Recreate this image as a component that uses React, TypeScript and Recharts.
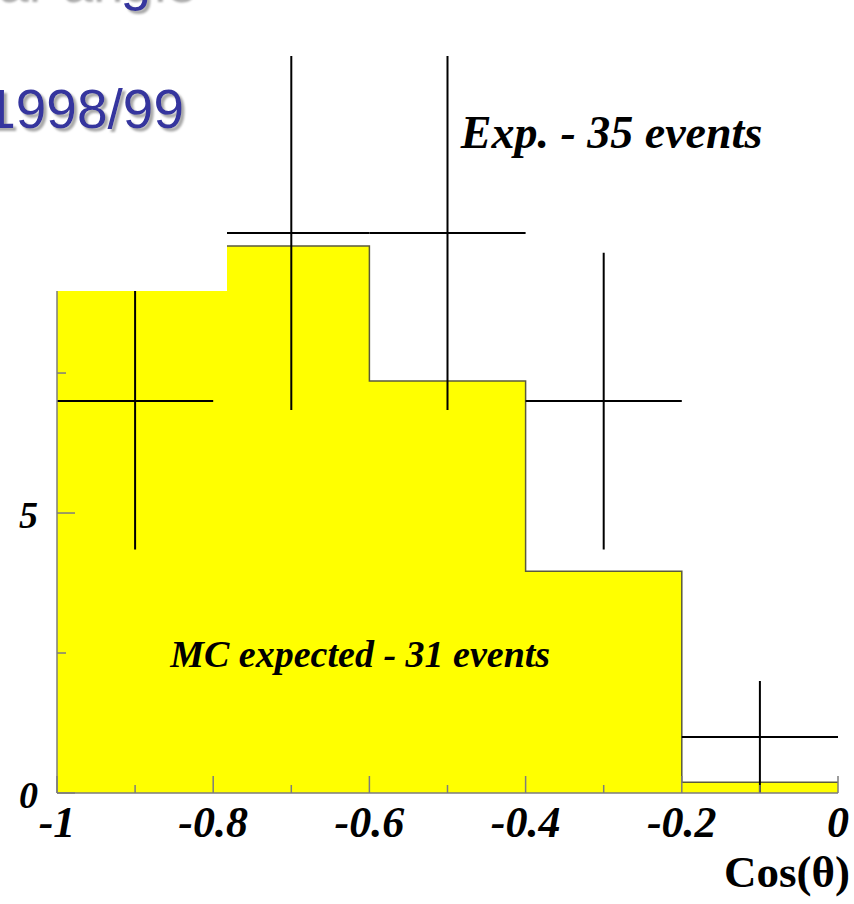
import React from "react";
import {
  ComposedChart,
  Area,
  Scatter,
  ErrorBar,
  XAxis,
  YAxis,
  ReferenceDot,
} from "recharts";

// MC expectation, one value per cos(theta) bin (last value repeated for the closing step)
const binEdges = [-1, -0.8, -0.6, -0.4, -0.2, 0];
const mcCounts = [9.72, 9.77, 7.36, 3.96, 0.19];

// measured events at bin centres, with sqrt(N) errors
const binCentres = [-0.9, -0.7, -0.5, -0.3, -0.1];
const expCounts = [7, 10, 10, 7, 1];
const expErrors = [2.65, 3.16, 3.16, 2.65, 1];
const binHalfWidth = 0.1;

const xMajor = [-1, -0.8, -0.6, -0.4, -0.2, 0];
const xMinor = [-0.9, -0.7, -0.5, -0.3, -0.1];
const xLabels = ["-1", "-0.8", "-0.6", "-0.4", "-0.2", "0"];
const yMajor = [0, 5, 10];
const yMinor = [2.5, 7.5, 12.5];
const yLabels = ["0", "5", "10"];

const xTicks = [...xMajor, ...xMinor].sort((a, b) => a - b);
const yTicks = [...yMajor, ...yMinor].sort((a, b) => a - b);

const mcData = binEdges.map((x, i) => ({
  x,
  y: mcCounts[Math.min(i, mcCounts.length - 1)],
}));
const expData = binCentres.map((x, i) => ({
  x,
  y: expCounts[i],
  ex: binHalfWidth,
  ey: expErrors[i],
}));

const FRAME = "#7d7d7d";
const serif = '"Liberation Serif", "Times New Roman", serif';

const findIdx = (arr: number[], v: number) =>
  arr.findIndex((m) => Math.abs(m - v) < 1e-6);

const BottomTick = (props: any) => {
  const { x, y, payload } = props;
  const i = findIdx(xMajor, payload.value);
  return (
    <g>
      <line x1={x} y1={y} x2={x} y2={y - (i >= 0 ? 17 : 8)} stroke={FRAME} strokeWidth={1.5} />
      {i >= 0 && (
        <text x={x} y={y + 44} textAnchor="middle" fontSize={44} fontFamily={serif}
          fontWeight={700} fontStyle="italic" fill="#000">
          {xLabels[i]}
        </text>
      )}
    </g>
  );
};

const TopTick = (props: any) => {
  const { x, y, payload } = props;
  const i = findIdx(xMajor, payload.value);
  return <line x1={x} y1={y} x2={x} y2={y + (i >= 0 ? 17 : 9)} stroke={FRAME} strokeWidth={1.5} />;
};

const LeftTick = (props: any) => {
  const { x, y, payload } = props;
  const i = findIdx(yMajor, payload.value);
  return (
    <g>
      <line x1={x} y1={y} x2={x + (i >= 0 ? 18 : 9)} y2={y} stroke={FRAME} strokeWidth={1.5} />
      {i >= 0 && (
        <text x={x - 19} y={y + 15} textAnchor="end" fontSize={38} fontFamily={serif}
          fontWeight={700} fontStyle="italic" fill="#000">
          {yLabels[i]}
        </text>
      )}
    </g>
  );
};

const RightTick = (props: any) => {
  const { x, y, payload } = props;
  const i = findIdx(yMajor, payload.value);
  return <line x1={x} y1={y} x2={x - (i >= 0 ? 17 : 9)} y2={y} stroke={FRAME} strokeWidth={1.5} />;
};

const note = (text: string, size: number) => (p: any) => (
  <text x={p.viewBox.x} y={p.viewBox.y} fontSize={size} fontFamily={serif}
    fontWeight={700} fontStyle="italic" fill="#000">
    {text}
  </text>
);

const App: React.FC = () => {
  return (
    <div style={{ position: "absolute", left: 0, top: 0, width: 854, height: 904 }}>
      <ComposedChart width={854} height={904} margin={{ top: 13, right: 16, bottom: 0, left: 0 }}>
        <XAxis
          dataKey="x"
          type="number"
          domain={[-1, 0]}
          ticks={xTicks}
          interval={0}
          height={111}
          tickSize={0}
          tickMargin={0}
          tickLine={false}
          axisLine={{ stroke: FRAME, strokeWidth: 1.5 }}
          tick={BottomTick}
          label={(p: any) => (
            <text x={p.viewBox.x + p.viewBox.width + 12} y={p.viewBox.y + 94} textAnchor="end"
              fontSize={45} fontFamily={serif} fontWeight={700} fill="#000">
              Cos(θ)
            </text>
          )}
        />
        <XAxis
          xAxisId="top"
          orientation="top"
          type="number"
          domain={[-1, 0]}
          ticks={xTicks}
          interval={0}
          height={0}
          tickSize={0}
          tickMargin={0}
          tickLine={false}
          axisLine={{ stroke: FRAME, strokeWidth: 1.5 }}
          tick={TopTick}
        />
        <YAxis
          dataKey="y"
          type="number"
          domain={[0, 13.93]}
          ticks={yTicks}
          interval={0}
          width={57}
          tickSize={0}
          tickMargin={0}
          tickLine={false}
          axisLine={{ stroke: FRAME, strokeWidth: 1.5 }}
          tick={LeftTick}
        />
        <YAxis
          yAxisId="right"
          orientation="right"
          type="number"
          domain={[0, 13.93]}
          ticks={yTicks}
          interval={0}
          width={0}
          tickSize={0}
          tickMargin={0}
          tickLine={false}
          axisLine={{ stroke: FRAME, strokeWidth: 1.5 }}
          tick={RightTick}
        />
        <Area
          data={mcData}
          dataKey="y"
          type="stepAfter"
          fill="#ffff00"
          fillOpacity={1}
          stroke="#5a5a3c"
          strokeWidth={1.5}
          isAnimationActive={false}
        />
        <Scatter data={expData} dataKey="y" shape={() => <g />} isAnimationActive={false}>
          <ErrorBar dataKey="ex" direction="x" width={0} stroke="#000" strokeWidth={2} />
          <ErrorBar dataKey="ey" direction="y" width={0} stroke="#000" strokeWidth={2} />
        </Scatter>
        <ReferenceDot x={-0.483} y={11.52} r={0} fill="none" stroke="none" label={note("Exp. - 35 events", 46)} />
        <ReferenceDot x={-0.855} y={2.25} r={0} fill="none" stroke="none" label={note("MC expected - 31 events", 38)} />
      </ComposedChart>

      {/* title box laid over the upper-left corner */}
      <svg
        width={227}
        height={291}
        style={{ position: "absolute", left: 0, top: 0, background: "#fff" }}
      >
        <defs>
          <filter id="shade" x="-10%" y="-10%" width="130%" height="140%">
            <feDropShadow dx={3} dy={3} stdDeviation={1} floodColor="#a8a8a8" floodOpacity={1} />
          </filter>
        </defs>
        <g fontFamily='"Liberation Sans", Arial, sans-serif' fill="#34349e" filter="url(#shade)">
          <text x={194} y={-1} textAnchor="end" fontSize={55}>Polar angle</text>
          <text x={184} y={128} textAnchor="end" fontSize={55}>1998/99</text>
        </g>
      </svg>
    </div>
  );
};

export default App;
